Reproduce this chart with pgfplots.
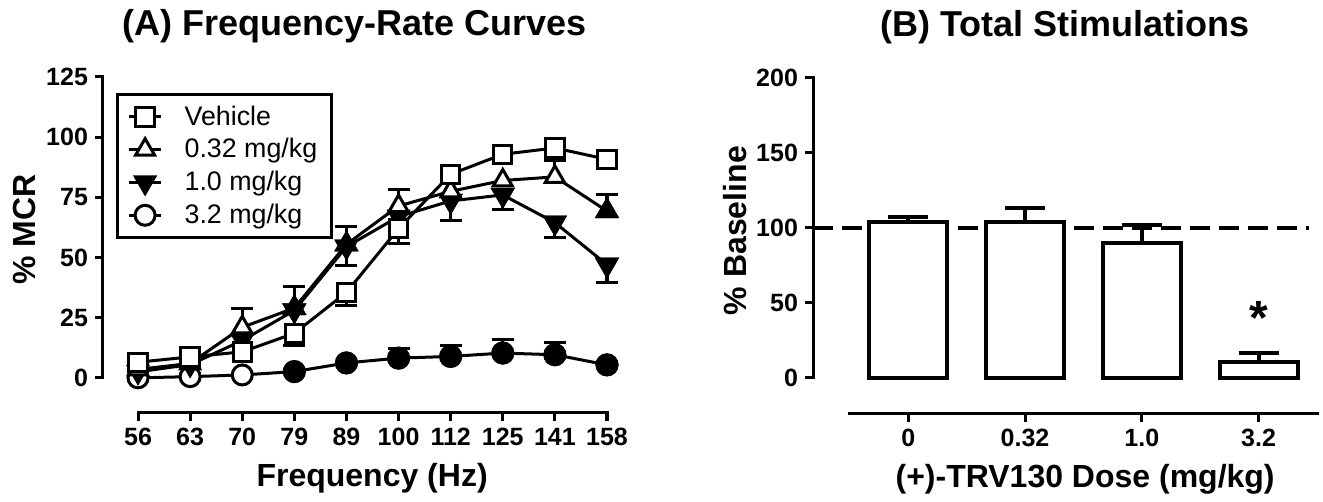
\documentclass[border=0pt]{standalone}
\usepackage{pgfplots}
\pgfplotsset{compat=1.18}
\usepackage{fontspec}
\setmainfont{Liberation Sans}

\newcommand{\tickfont}{\fontsize{12.5pt}{14pt}\selectfont\bfseries}
\newcommand{\labelfont}{\fontsize{16pt}{18pt}\selectfont\bfseries}
\newcommand{\titlefont}{\fontsize{18pt}{20pt}\selectfont\bfseries}

\pgfplotsset{
  panel/.style={
    scale only axis, width=252pt, height=168pt,
    anchor=south west, clip=false,
    axis lines*=left, axis line style={draw=none},
    tick align=outside, major tick length=4pt,
    tick style={black, line width=1.5pt},
    ticklabel style={font=\tickfont},
    /pgf/number format/assume math mode=true,
    label style={font=\labelfont},
    title style={font=\titlefont, anchor=base, yshift=0pt,
      at={(axis description cs:0.5,1.089)}},
  },
  ebar/.style={forget plot, draw=none, mark=none,
    error bars/y explicit,
    error bars/error bar style={line width=1.5pt, black},
    error bars/error mark options={rotate=90, mark size=5.5pt, line width=1.5pt, black}},
  ser/.style={black, line width=1.5pt, mark options={fill=white, line width=1.5pt}},
}

\begin{document}
\begin{tikzpicture}
\useasboundingbox (-51.5pt,-44.5pt) rectangle (610pt,206.5pt);

% (A) frequency-rate curves
\begin{axis}[panel, at={(0pt,0pt)},
  xmin=-0.672, xmax=9, ymin=-14.6, ymax=125,
  xtick={0,...,9}, xticklabels={56,63,70,79,89,100,112,125,141,158},
  ytick={0,25,50,75,100,125},
  xlabel={Frequency (Hz)},
  xlabel style={at={(axis description cs:0.534,-0.22)}, anchor=base},
  ylabel={\% MCR},
  ylabel style={at={(axis description cs:-0.155,0.546)}, anchor=center},
  title={(A) Frequency-Rate Curves},
  reverse legend,
  legend cell align=left,
  legend style={at={(axis description cs:0.026,0.952)}, anchor=north west,
    draw=black, line width=1.5pt, font=\fontsize{13.4pt}{15pt}\selectfont,
    inner xsep=5pt, inner ysep=3.5pt, row sep=1.2pt, column sep=9pt},
  legend image code/.code={\draw[#1, mark repeat=2, mark phase=2]
    plot coordinates {(0pt,0pt) (8pt,0pt) (16pt,0pt)};},
]
% error bars
\addplot[ebar, error bars/y dir=plus] coordinates {
  (5,8.2) +- (0,4.2) (6,8.9) +- (0,4.4) (7,10.3) +- (0,5.5) (8,9.6) +- (0,5.1)};
\addplot[ebar, error bars/y dir=minus] coordinates {
  (4,54.5) +- (0,8) (6,73.5) +- (0,8) (7,76) +- (0,6) (8,64.5) +- (0,6.3) (9,47) +- (0,7.3)};
\addplot[ebar, error bars/y dir=plus] coordinates {
  (2,21) +- (0,8) (3,29) +- (0,9) (4,55.5) +- (0,7.5) (5,71.4) +- (0,7) (8,83.5) +- (0,7) (9,69.3) +- (0,7)};
\addplot[ebar, error bars/y dir=minus] coordinates {
  (3,18.5) +- (0,5) (4,35.5) +- (0,5.5) (5,62) +- (0,6)};

% 3.2 mg/kg
\addplot[ser, mark=*, mark size=5pt] coordinates {
  (0,0) (1,0.5) (2,1.2) (3,2.6) (4,6.2) (5,8.2) (6,8.9) (7,10.3) (8,9.6) (9,5.4)};
\addlegendentry{3.2 mg/kg}
\addplot[forget plot, only marks, mark=*, mark size=5pt, mark options={fill=black, line width=1.5pt}] coordinates {
  (3,2.6) (4,6.2) (5,8.2) (6,8.9) (7,10.3) (8,9.6) (9,5.4)};
% 1.0 mg/kg
\addplot[ser, mark=triangle*, mark size=5.5pt, mark options={rotate=180}] coordinates {
  (0,2.5) (1,5.5) (2,15.5) (3,28) (4,54.5) (5,67) (6,73.5) (7,76) (8,64.5) (9,47)};
\addlegendentry{1.0 mg/kg}
\addplot[forget plot, only marks, mark=triangle*, mark size=5.5pt, mark options={rotate=180, fill=black, line width=1.5pt}] coordinates {
  (3,28) (4,54.5) (6,73.5) (7,76) (8,64.5) (9,47)};
% 0.32 mg/kg
\addplot[ser, mark=triangle*, mark size=5.5pt] coordinates {
  (0,3.5) (1,6) (2,21) (3,29) (4,55.5) (5,71.4) (6,77.5) (7,82) (8,83.5) (9,69.3)};
\addlegendentry{0.32 mg/kg}
\addplot[forget plot, only marks, mark=triangle*, mark size=5.5pt, mark options={fill=black, line width=1.5pt}] coordinates {
  (3,29) (4,55.5) (9,69.3)};
% vehicle
\addplot[ser, mark=square*, mark size=4.6pt] coordinates {
  (0,6.5) (1,8.7) (2,10.8) (3,18.5) (4,35.5) (5,62) (6,84.6) (7,92.9) (8,95.5) (9,90.8)};
\addlegendentry{Vehicle}

% axis lines set apart from the data, as in the original
\draw[line width=1.5pt, line cap=rect] (axis cs:0,-14.6) -- (axis cs:9,-14.6);
\draw[line width=1.5pt, line cap=rect] (axis cs:-0.672,0) -- (axis cs:-0.672,125);
\end{axis}

% (B) total stimulations
\begin{axis}[panel, at={(355pt,-0.5pt)},
  xmin=-0.816, xmax=3.5, ymin=-24, ymax=200,
  xtick={0,1,2,3}, xticklabels={0,0.32,1.0,3.2},
  ytick={0,50,100,150,200},
  xlabel={(+)-TRV130 Dose (mg/kg)},
  xlabel style={at={(axis description cs:0.54,-0.22)}, anchor=base},
  ylabel={\% Baseline},
  ylabel style={at={(axis description cs:-0.155,0.546)}, anchor=center},
  title={(B) Total Stimulations},
]
\addplot[black, line width=2pt, dash pattern=on 10pt off 4.5pt, forget plot] coordinates {(-0.816,100) (3.43,100)};
\addplot[ybar, bar width=39pt, fill=white, draw=black, line width=2pt,
  error bars/y dir=plus, error bars/y explicit,
  error bars/error bar style={line width=2pt, black},
  error bars/error mark options={rotate=90, mark size=10pt, line width=2pt, black}]
  coordinates {(0,104.2) +- (0,3.3) (1,104.2) +- (0,8.9) (2,90.2) +- (0,11.8) (3,10.9) +- (0,6)};
\node[font=\fontsize{24pt}{24pt}\selectfont\bfseries] at (axis cs:3,40) {*};

\draw[line width=1.5pt, line cap=rect] (axis cs:-0.5,-24) -- (axis cs:3.5,-24);
\draw[line width=1.5pt, line cap=rect] (axis cs:-0.816,0) -- (axis cs:-0.816,200);
\end{axis}
\end{tikzpicture}
\end{document}
